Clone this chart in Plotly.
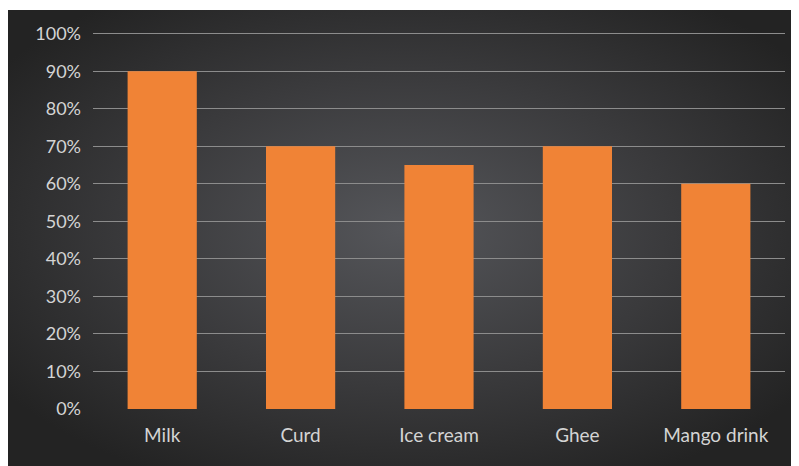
import base64
import plotly.graph_objects as go

categories = ["Milk", "Curd", "Ice cream", "Ghee", "Mango drink"]
values = [0.90, 0.70, 0.65, 0.70, 0.60]
tick_vals = [0, 0.1, 0.2, 0.3, 0.4, 0.5, 0.6, 0.7, 0.8, 0.9, 1.0]
tick_text = ["0%", "10%", "20%", "30%", "40%", "50%", "60%", "70%", "80%", "90%", "100%"]

# figure is placed by the page at (8, 8)
W, H = 791, 458
L, R, T, B = 85, 14, 22, 57
pw, ph = W - L - R, H - T - B

svg = (
    "<svg xmlns='http://www.w3.org/2000/svg' width='791' height='456' preserveAspectRatio='none'>"
    "<defs><radialGradient id='g' cx='50%' cy='48%' r='62%'>"
    "<stop offset='0' stop-color='#55565a'/>"
    "<stop offset='0.55' stop-color='#3a3a3c'/>"
    "<stop offset='1' stop-color='#232323'/>"
    "</radialGradient></defs>"
    "<rect width='791' height='456' fill='url(#g)'/></svg>"
)
src = "data:image/svg+xml;base64," + base64.b64encode(svg.encode()).decode()

fig = go.Figure()
fig.add_trace(go.Bar(
    x=categories, y=values,
    marker=dict(color="#f08336", line=dict(width=0)),
    width=0.5,
    hoverinfo="skip",
))

fig.add_layout_image(dict(
    source=src, xref="paper", yref="paper",
    x=-L / pw, y=1 + (T - 2) / ph,
    sizex=W / pw, sizey=(H - 2) / ph,
    sizing="stretch", xanchor="left", yanchor="top", layer="below",
))

fig.update_layout(
    width=W, height=H,
    margin=dict(l=L, r=R, t=T, b=B, pad=0),
    paper_bgcolor="white",
    plot_bgcolor="rgba(0,0,0,0)",
    showlegend=False,
    font=dict(family="Lato, Open Sans, sans-serif", size=18, color="#d4d4d4"),
    bargap=0.5,
)
fig.update_xaxes(
    showgrid=False, showline=False, zeroline=False,
    ticks="", ticklabelstandoff=13,
    tickfont=dict(size=19, color="#d4d4d4"),
)
fig.update_yaxes(
    range=[0, 1.01], tickvals=tick_vals, ticktext=tick_text,
    showgrid=True, gridcolor="#8c8c8c", gridwidth=1,
    zeroline=True, zerolinecolor="rgba(0,0,0,0)",
    showline=False, ticks="", ticklabelstandoff=11,
    tickfont=dict(size=18, color="#d4d4d4"),
)

fig.write_html("out.html")
